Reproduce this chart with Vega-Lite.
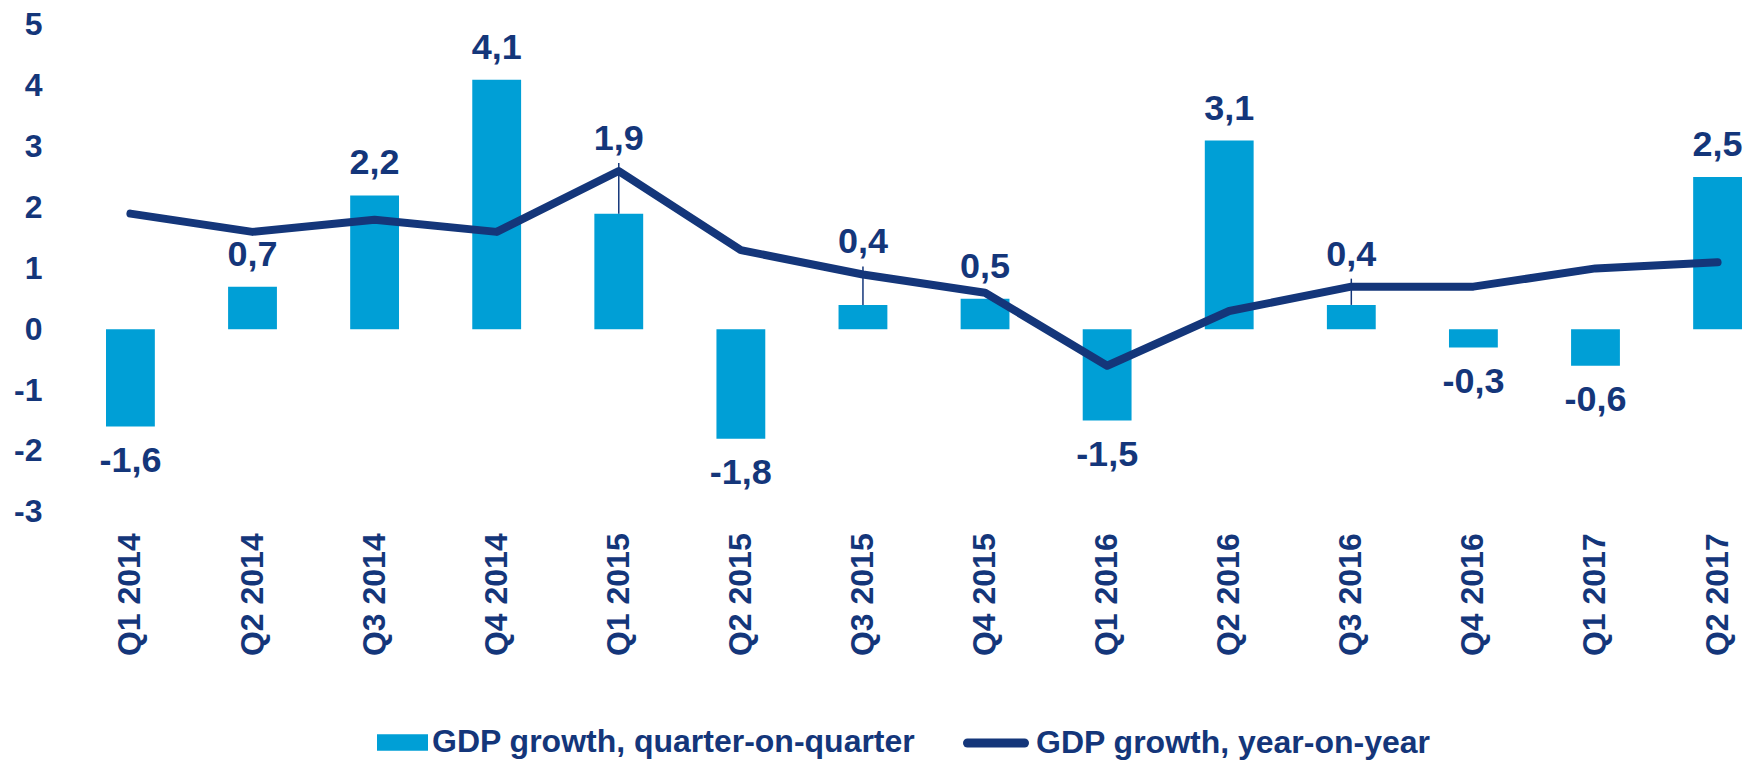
{
  "$schema": "https://vega.github.io/schema/vega-lite/v6.json",
  "width": 1636,
  "height": 486.8,
  "autosize": {"type": "none"},
  "padding": {"left": 106, "top": 25, "right": 4, "bottom": 249},
  "background": "white",
  "config": {"view": {"stroke": null}, "font": "Liberation Sans"},
  "data": {
    "values": [
      {"quarter": "Q1 2014", "qoq": -1.6, "yoy": 1.9},
      {"quarter": "Q2 2014", "qoq": 0.7, "yoy": 1.6},
      {"quarter": "Q3 2014", "qoq": 2.2, "yoy": 1.8},
      {"quarter": "Q4 2014", "qoq": 4.1, "yoy": 1.6},
      {"quarter": "Q1 2015", "qoq": 1.9, "yoy": 2.6},
      {"quarter": "Q2 2015", "qoq": -1.8, "yoy": 1.3},
      {"quarter": "Q3 2015", "qoq": 0.4, "yoy": 0.9},
      {"quarter": "Q4 2015", "qoq": 0.5, "yoy": 0.6},
      {"quarter": "Q1 2016", "qoq": -1.5, "yoy": -0.6},
      {"quarter": "Q2 2016", "qoq": 3.1, "yoy": 0.3},
      {"quarter": "Q3 2016", "qoq": 0.4, "yoy": 0.7},
      {"quarter": "Q4 2016", "qoq": -0.3, "yoy": 0.7},
      {"quarter": "Q1 2017", "qoq": -0.6, "yoy": 1.0},
      {"quarter": "Q2 2017", "qoq": 2.5, "yoy": 1.1}
    ]
  },
  "transform": [
    {"calculate": "replace(replace(format(datum.qoq, '.1f'), '.', ','), '\u2212', '-')", "as": "lbl"}
  ],
  "encoding": {
    "x": {
      "field": "quarter",
      "type": "nominal",
      "sort": null,
      "scale": {"type": "band", "paddingInner": 0.6, "paddingOuter": 0},
      "axis": {
        "title": null,
        "labelAngle": -90,
        "labelFontSize": 32,
        "labelFontWeight": "bold",
        "labelColor": "#14367A",
        "labelFont": "Liberation Sans",
        "labelPadding": 21,
        "ticks": false,
        "tickSize": 0,
        "domain": false,
        "grid": false,
        "labelOverlap": false,
        "labelLimit": 0
      }
    }
  },
  "layer": [
    {
      "mark": {"type": "bar", "color": "#009FD6"},
      "encoding": {
        "y": {
          "field": "qoq",
          "type": "quantitative",
          "stack": null,
          "scale": {"domain": [-3, 5], "nice": false},
          "axis": {
            "title": null,
            "values": [-3, -2, -1, 0, 1, 2, 3, 4, 5],
            "labelExpr": "'' + datum.value",
            "labelFontSize": 32,
            "labelFontWeight": "bold",
            "labelColor": "#14367A",
            "labelFont": "Liberation Sans",
            "labelPadding": 64,
            "ticks": false,
            "tickSize": 0,
            "domain": false,
            "grid": false,
            "labelFlush": false,
            "labelOverlap": false
          }
        },
        "fill": {
          "datum": "GDP growth, quarter-on-quarter",
          "type": "nominal",
          "scale": {"range": ["#009FD6"]},
          "legend": {
            "title": null,
            "orient": "none",
            "legendX": 271,
            "legendY": 692,
            "padding": 0,
            "symbolType": "M-1,-0.32H1V0.32H-1Z",
            "symbolSize": 2601,
            "symbolStrokeWidth": 0,
            "labelFont": "Liberation Sans",
            "labelFontSize": 32,
            "labelFontWeight": "bold",
            "labelColor": "#14367A",
            "labelOffset": 4,
            "labelLimit": 0
          }
        }
      }
    },
    {
      "transform": [{"filter": {"field": "quarter", "oneOf": ["Q1 2015", "Q3 2015", "Q3 2016"]}}],
      "mark": {"type": "rule", "color": "#14367A", "strokeWidth": 1.5, "y2Offset": -8},
      "encoding": {
        "y": {"field": "qoq", "type": "quantitative"},
        "y2": {"field": "yoy"}
      }
    },
    {
      "mark": {"type": "line", "strokeWidth": 8, "strokeCap": "round", "strokeJoin": "round"},
      "encoding": {
        "y": {"field": "yoy", "type": "quantitative"},
        "stroke": {
          "datum": "GDP growth, year-on-year",
          "type": "nominal",
          "scale": {"range": ["#14367A"]},
          "legend": {
            "title": null,
            "orient": "none",
            "legendX": 857,
            "legendY": 685,
            "padding": 0,
            "symbolType": "stroke",
            "symbolSize": 3249,
            "symbolStrokeWidth": 9,
            "labelFont": "Liberation Sans",
            "labelFontSize": 32,
            "labelFontWeight": "bold",
            "labelColor": "#14367A",
            "labelOffset": 7,
            "labelLimit": 0,
            "encode": {"symbols": {"update": {"strokeCap": {"value": "round"}}}}
          }
        }
      }
    },
    {
      "transform": [{"filter": "datum.qoq >= 0 && indexof(['Q1 2015','Q3 2015','Q3 2016'], datum.quarter) < 0"}],
      "mark": {"type": "text", "fontSize": 36, "fontWeight": "bold", "color": "#14367A", "baseline": "middle", "dy": -32},
      "encoding": {
        "y": {"field": "qoq", "type": "quantitative"},
        "text": {"field": "lbl"}
      }
    },
    {
      "transform": [{"filter": "datum.qoq < 0"}],
      "mark": {"type": "text", "fontSize": 36, "fontWeight": "bold", "color": "#14367A", "baseline": "middle", "dy": 34},
      "encoding": {
        "y": {"field": "qoq", "type": "quantitative"},
        "text": {"field": "lbl"}
      }
    },
    {
      "transform": [{"filter": {"field": "quarter", "oneOf": ["Q1 2015", "Q3 2015", "Q3 2016"]}}],
      "mark": {"type": "text", "fontSize": 36, "fontWeight": "bold", "color": "#14367A", "baseline": "middle", "dy": -32},
      "encoding": {
        "y": {"field": "yoy", "type": "quantitative"},
        "text": {"field": "lbl"}
      }
    }
  ]
}
